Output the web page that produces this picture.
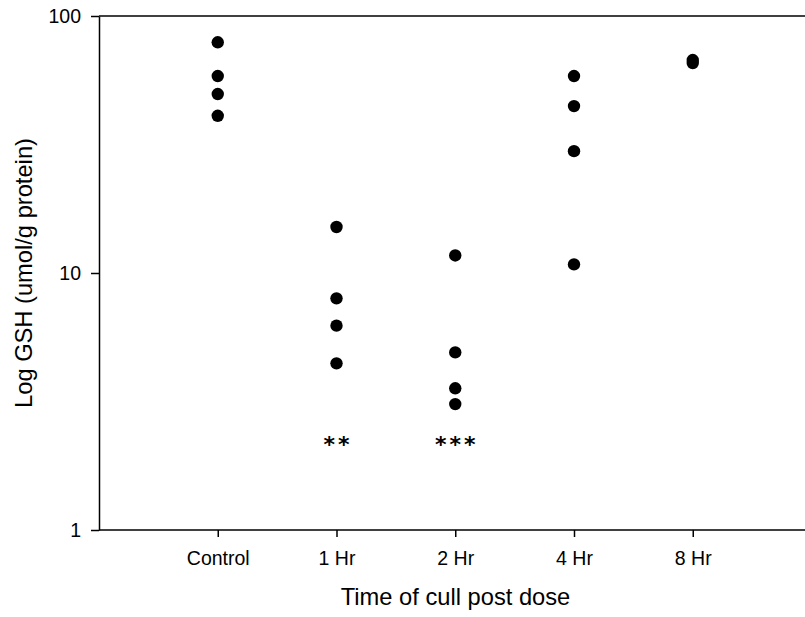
<!DOCTYPE html>
<html>
<head>
<meta charset="utf-8">
<script src="https://cdn.jsdelivr.net/npm/d3@7"></script>
<style>
  body { margin: 0; background: #fff; }
  svg { display: block; }
</style>
</head>
<body>
<script>
// category labels and positions on the x axis
const groups = ["Control", "1 Hr", "2 Hr", "4 Hr", "8 Hr"];

// GSH values (umol/g protein)
const controlValues = [79, 58.4, 49.7, 40.9];
const hr1Values = [15.1, 7.97, 6.24, 4.45];
const hr2Values = [11.7, 4.91, 3.56, 3.09];
const hr4Values = [58.4, 44.6, 29.8, 10.8];
const hr8Values = [67.4, 65.6];

// significance marks under groups
const marks = [
  { group: "1 Hr", text: "**" },
  { group: "2 Hr", text: "***" },
];
const markLevel = 2.2;

const yTicks = [1, 10, 100];

const width = 805;
const height = 617;
const margin = { top: 16, right: 0, bottom: 87, left: 99 };

const series = [controlValues, hr1Values, hr2Values, hr4Values, hr8Values];
const points = [];
series.forEach((vals, i) => {
  vals.forEach((v) => points.push({ group: groups[i], value: v }));
});

// x as a linear index so the axis runs past the last group
const x = d3
  .scaleLinear()
  .domain([0, 6])
  .range([margin.left, margin.left + 6 * 118.75]);
const xIndex = (g) => groups.indexOf(g) + 1;

const y = d3
  .scaleLog()
  .domain([1, 100])
  .range([height - margin.bottom, margin.top]);

const svg = d3
  .select("body")
  .append("svg")
  .attr("width", width)
  .attr("height", height)
  .attr("viewBox", [0, 0, width, height]);

const font = "'Liberation Sans', Arial, Helvetica, sans-serif";

// frame: top line
svg
  .append("line")
  .attr("x1", margin.left)
  .attr("x2", width)
  .attr("y1", margin.top)
  .attr("y2", margin.top)
  .attr("stroke", "#000")
  .attr("stroke-width", 1.5);

// x axis
const xAxis = svg
  .append("g")
  .attr("transform", `translate(0,${height - margin.bottom})`)
  .call(
    d3
      .axisBottom(x)
      .tickValues(groups.map((g, i) => i + 1))
      .tickFormat((d) => groups[d - 1])
      .tickSize(7)
      .tickPadding(14)
  );
xAxis.select(".domain").remove();
xAxis
  .append("line")
  .attr("x1", margin.left)
  .attr("x2", width)
  .attr("stroke", "#000")
  .attr("stroke-width", 1.5);
xAxis.selectAll(".tick line").attr("stroke-width", 1.5);
xAxis
  .selectAll(".tick text")
  .attr("fill", "#000")
  .style("font", `19.5px ${font}`);

// y axis
const yAxis = svg
  .append("g")
  .attr("transform", `translate(${margin.left},0)`)
  .call(
    d3
      .axisLeft(y)
      .tickValues(yTicks)
      .tickFormat(d3.format("d"))
      .tickSize(8)
      .tickSizeOuter(0)
      .tickPadding(10)
  );
yAxis.select(".domain").attr("stroke-width", 1.5);
yAxis.selectAll(".tick line").attr("stroke-width", 1.5);
yAxis
  .selectAll(".tick text")
  .attr("fill", "#000")
  .style("font", `19.5px ${font}`);

// axis titles
svg
  .append("text")
  .attr("x", 455.5)
  .attr("y", 605)
  .attr("text-anchor", "middle")
  .style("font", `23.7px ${font}`)
  .text("Time of cull post dose");

svg
  .append("text")
  .attr("transform", `translate(32,${(margin.top + height - margin.bottom) / 2}) rotate(-90)`)
  .attr("text-anchor", "middle")
  .style("font", `23.7px ${font}`)
  .text("Log GSH (umol/g protein)");

// data points
svg
  .append("g")
  .selectAll("circle")
  .data(points)
  .join("circle")
  .attr("cx", (d) => x(xIndex(d.group)))
  .attr("cy", (d) => y(d.value))
  .attr("r", 6.2)
  .attr("fill", "#000");

// significance asterisks
svg
  .append("g")
  .selectAll("text")
  .data(marks)
  .join("text")
  .attr("x", (d) => x(xIndex(d.group)))
  .attr("y", y(markLevel))
  .attr("dy", "0.45em")
  .attr("dx", 1.5)
  .attr("text-anchor", "middle")
  .attr("fill", "#000")
  .attr("letter-spacing", 3)
  .style("font", "bold 22px 'DejaVu Sans', sans-serif")
  .text((d) => d.text);
</script>
</body>
</html>
